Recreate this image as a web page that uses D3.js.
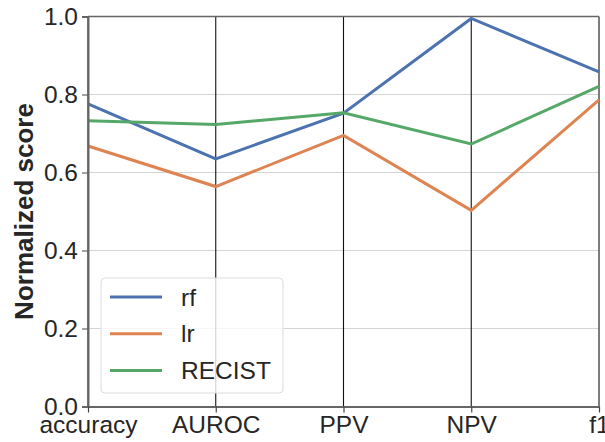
<!DOCTYPE html>
<html>
<head>
<meta charset="utf-8">
<script src="https://cdn.jsdelivr.net/npm/d3@7"></script>
<style>
  body { margin: 0; background: #fff; }
  text { font-family: "Liberation Sans", Arial, sans-serif; }
</style>
</head>
<body>
<div id="chart"></div>
<script>
// parallel coordinates of normalized scores
const metrics = ["accuracy", "AUROC", "PPV", "NPV", "f1"];
const seriesNames = ["rf", "lr", "RECIST"];
const rf = [0.776, 0.635, 0.752, 0.995, 0.858];
const lr = [0.668, 0.564, 0.695, 0.503, 0.786];
const recist = [0.733, 0.723, 0.753, 0.673, 0.821];
const yTicks = [0.0, 0.2, 0.4, 0.6, 0.8, 1.0];
const colors = ["#4C72B0", "#DD8452", "#55A868"];

const width = 605, height = 442;
const margin = {left: 88, right: 6, top: 16.5, bottom: 35.5};
const fontSize = 24.5;

const svg = d3.select("#chart").append("svg")
  .attr("width", width).attr("height", height);

const x = d3.scalePoint().domain(metrics)
  .range([margin.left, width - margin.right]);
const y = d3.scaleLinear().domain([0, 1])
  .range([height - margin.bottom, margin.top]);

// horizontal grid
svg.append("g").selectAll("line")
  .data(yTicks.slice(1, -1))
  .join("line")
  .attr("x1", margin.left).attr("x2", width - margin.right)
  .attr("y1", d => y(d)).attr("y2", d => y(d))
  .attr("stroke", "#d5d5d5").attr("stroke-width", 1);

// axis vertical lines
svg.append("g").selectAll("line")
  .data(metrics)
  .join("line")
  .attr("x1", d => x(d)).attr("x2", d => x(d))
  .attr("y1", y(0)).attr("y2", y(1))
  .attr("stroke", "#111").attr("stroke-width", 1.1);

// top spine
svg.append("line")
  .attr("x1", margin.left).attr("x2", width - margin.right)
  .attr("y1", y(1)).attr("y2", y(1))
  .attr("stroke", "#666").attr("stroke-width", 1.5);

// series lines
const data = [rf, lr, recist];
const line = d3.line()
  .x((d, i) => x(metrics[i]))
  .y(d => y(d));
svg.append("g").selectAll("path")
  .data(data)
  .join("path")
  .attr("d", line)
  .attr("fill", "none")
  .attr("stroke", (d, i) => colors[i])
  .attr("stroke-width", 3);

// y axis
const yAxis = svg.append("g")
  .attr("transform", `translate(${margin.left},0)`)
  .call(d3.axisLeft(y).tickValues(yTicks).tickFormat(d3.format(".1f")).tickSize(6).tickPadding(4));
yAxis.select(".domain").attr("stroke", "#666").attr("stroke-width", 2);
yAxis.selectAll(".tick line").attr("stroke", "#666").attr("stroke-width", 1.2);
yAxis.selectAll(".tick text")
  .attr("font-size", fontSize).attr("fill", "#262626")
  .attr("font-family", "'Liberation Sans', Arial, sans-serif");

// x axis
const xAxis = svg.append("g")
  .attr("transform", `translate(0,${y(0)})`)
  .call(d3.axisBottom(x).tickSize(6).tickPadding(3).tickSizeOuter(0));
xAxis.select(".domain").attr("stroke", "#666").attr("stroke-width", 2);
xAxis.selectAll(".tick line").attr("stroke", "#444").attr("stroke-width", 1.2);
xAxis.selectAll(".tick text")
  .attr("font-size", fontSize).attr("fill", "#262626")
  .attr("font-family", "'Liberation Sans', Arial, sans-serif");

// y label
svg.append("text")
  .attr("transform", `translate(33,${(y(0) + y(1)) / 2}) rotate(-90)`)
  .attr("text-anchor", "middle")
  .attr("font-size", 26).attr("font-weight", "bold").attr("fill", "#262626")
  .text("Normalized score");

// legend
const lg = svg.append("g").attr("transform", "translate(101,278)");
lg.append("rect")
  .attr("width", 182).attr("height", 115).attr("rx", 4)
  .attr("fill", "white").attr("fill-opacity", 0.8)
  .attr("stroke", "#dcdcdc");
seriesNames.forEach((name, i) => {
  const yy = 19 + i * 36.7;
  lg.append("line")
    .attr("x1", 9).attr("x2", 61).attr("y1", yy).attr("y2", yy)
    .attr("stroke", colors[i]).attr("stroke-width", 3);
  lg.append("text")
    .attr("x", 80).attr("y", yy).attr("dy", "0.35em")
    .attr("font-size", fontSize).attr("fill", "#262626")
    .text(name);
});
</script>
</body>
</html>
